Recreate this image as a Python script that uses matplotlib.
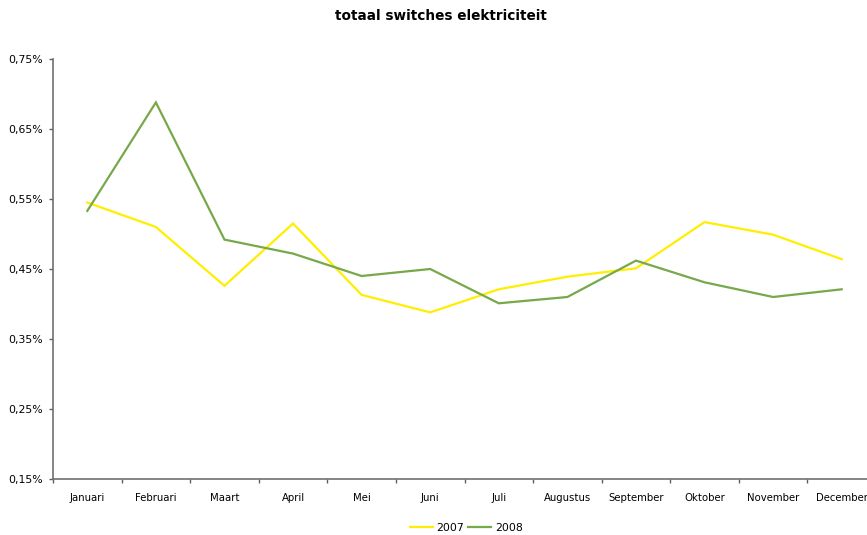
import matplotlib
matplotlib.use("Agg")
import matplotlib.pyplot as plt
from matplotlib.ticker import FixedLocator, FuncFormatter
from matplotlib.lines import Line2D

months = ["Januari", "Februari", "Maart", "April", "Mei", "Juni", "Juli",
          "Augustus", "September", "Oktober", "November", "December"]
y2007 = [0.545, 0.510, 0.426, 0.515, 0.413, 0.388, 0.421, 0.439, 0.451, 0.517, 0.499, 0.464]
y2008 = [0.533, 0.688, 0.492, 0.472, 0.440, 0.450, 0.401, 0.410, 0.462, 0.431, 0.410, 0.421]
yticks = [0.15, 0.25, 0.35, 0.45, 0.55, 0.65, 0.75]

W, H = 867, 535
fig = plt.figure(figsize=(W / 100, H / 100), dpi=100)
left, right, top, bottom = 53, 876, 59, 479
ax = fig.add_axes([left / W, 1 - bottom / H, (right - left) / W, (bottom - top) / H])

x = list(range(len(months)))
ax.plot(x, y2007, color="#FFEE00", lw=1.6, label="2007", solid_joinstyle="miter")
ax.plot(x, y2008, color="#77A84A", lw=1.6, label="2008", solid_joinstyle="miter")

ax.set_xlim(-0.5, len(months) - 0.5)
ax.set_ylim(0.15, 0.75)
ax.set_yticks(yticks)
ax.yaxis.set_major_formatter(FuncFormatter(lambda v, p: f"{v:.2f}%".replace(".", ",")))
ax.set_xticks(x)
ax.set_xticklabels(months)
ax.xaxis.set_minor_locator(FixedLocator([i - 0.5 for i in range(len(months) + 1)]))
ax.tick_params(axis="x", which="major", length=0, pad=10, labelsize=7.3, colors="#000000")
ax.tick_params(axis="x", which="minor", length=3, width=1, color="#606060", direction="out")
ax.tick_params(axis="y", length=3, width=1, color="#606060", labelsize=7.8, pad=4)
lbls = ax.get_xticklabels()
lbls[-1].set_ha("right")
lbls[-1].set_x(11.0)
import matplotlib.transforms as mtrans
lbls[-1].set_transform(lbls[-1].get_transform() + mtrans.ScaledTranslation(26 / 100, 0, fig.dpi_scale_trans))

for s in ["top", "right"]:
    ax.spines[s].set_visible(False)
for s in ["left", "bottom"]:
    ax.spines[s].set_color("#707070")
    ax.spines[s].set_linewidth(1.2)

fig.text(441 / W, 1 - 16 / H, "totaal switches elektriciteit", ha="center", va="center",
         fontsize=9.8, fontweight="bold")

handles = [Line2D([], [], color="#FFEE00", lw=1.6), Line2D([], [], color="#77A84A", lw=1.6)]
fig.legend(handles, ["2007", "2008"], loc="center", bbox_to_anchor=(466 / W, 1 - 528 / H),
           ncol=2, frameon=False, fontsize=7.8, handlelength=2.2, handletextpad=0.3,
           columnspacing=0.3)

fig.savefig("out.png", dpi=100)
